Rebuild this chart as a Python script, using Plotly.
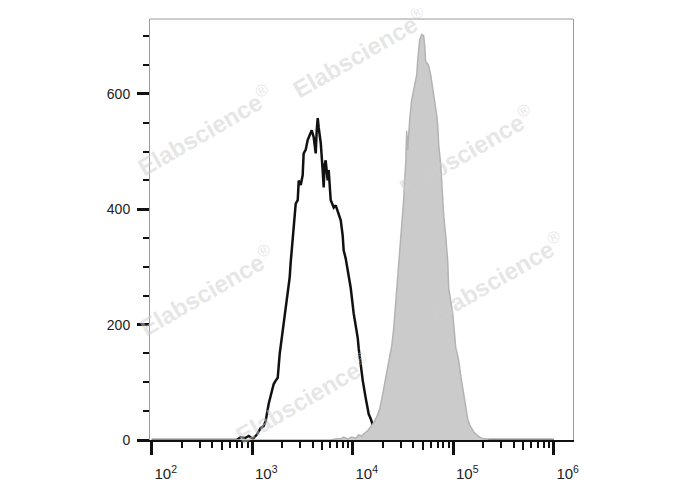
import plotly.graph_objects as go

# ---- data (log10 of fluorescence intensity, event counts) ----
black_log10 = [2.0, 2.846, 2.886, 2.925, 2.965, 3.005, 3.045, 3.065, 3.085, 3.114, 3.134, 3.164, 3.194,
               3.214, 3.234, 3.254, 3.274, 3.303, 3.313, 3.333, 3.353, 3.373, 3.383, 3.403, 3.423, 3.433,
               3.453, 3.463, 3.483, 3.502, 3.512, 3.532, 3.552, 3.572, 3.592, 3.612, 3.632, 3.642, 3.652,
               3.662, 3.682, 3.701, 3.711, 3.721, 3.731, 3.751, 3.761, 3.781, 3.811, 3.831, 3.851, 3.881,
               3.900, 3.910, 3.930, 3.950, 3.980, 4.010, 4.030, 4.050, 4.060, 4.070, 4.080, 4.100, 4.129,
               4.159, 4.179, 4.209, 4.239, 4.259, 4.289, 4.308, 4.338, 4.368, 6.0]
black_count = [0, 0, 5, 3, 7, 2, 9, 16, 21, 24, 33, 63, 82,
               97, 103, 108, 150, 190, 207, 233, 259, 282, 308, 351, 390, 410,
               416, 450, 442, 459, 497, 503, 520, 529, 537, 525, 497, 537, 558,
               541, 515, 468, 438, 477, 485, 450, 468, 416, 403, 407, 398, 381,
               355, 329, 315, 294, 264, 219, 198, 177, 158, 143, 129, 103, 73,
               45, 37, 21, 14, 10, 3, 0, 5, 0, 0]

gray_log10 = [2.0, 3.781, 3.841, 3.881, 3.910, 3.950, 3.990, 4.030, 4.060, 4.090, 4.119, 4.149, 4.179,
              4.209, 4.239, 4.269, 4.289, 4.308, 4.328, 4.348, 4.368, 4.388, 4.408, 4.428, 4.448, 4.458,
              4.478, 4.488, 4.498, 4.507, 4.517, 4.527, 4.537, 4.547, 4.567, 4.587, 4.607, 4.627, 4.637,
              4.647, 4.657, 4.667, 4.687, 4.706, 4.716, 4.726, 4.746, 4.756, 4.776, 4.796, 4.816, 4.836,
              4.846, 4.856, 4.876, 4.886, 4.905, 4.925, 4.945, 4.955, 4.975, 4.995, 5.015, 5.025, 5.045,
              5.055, 5.075, 5.095, 5.114, 5.124, 5.144, 5.164, 5.184, 5.204, 5.234, 5.264, 5.303, 5.353, 6.0]
gray_count = [0, 0, 2, 2, 5, 2, 5, 3, 9, 7, 12, 16, 23,
              30, 40, 54, 71, 90, 108, 129, 143, 163, 193, 237, 273, 294,
              341, 360, 381, 416, 450, 477, 536, 503, 555, 590, 607, 624, 633,
              659, 680, 694, 703, 701, 685, 656, 652, 649, 633, 610, 590, 563,
              546, 511, 477, 442, 390, 355, 311, 264, 242, 219, 181, 160, 146,
              137, 111, 90, 68, 56, 37, 26, 19, 14, 9, 5, 2, 0, 0]

decade_vals = [1e2, 1e3, 1e4, 1e5, 1e6]
decade_text = ["10<sup>2</sup>", "10<sup>3</sup>", "10<sup>4</sup>", "10<sup>5</sup>", "10<sup>6</sup>"]
five_vals = [5e2, 5e3, 5e4, 5e5]
minor_mults = [2, 3, 4, 6, 7, 8, 9]
y_major = [0, 200, 400, 600]
watermark_text = "<b>Elabscience</b><sup>®</sup>"

minor_vals = [m * d for d in [1e2, 1e3, 1e4, 1e5] for m in minor_mults]

x_range = [1.983, 6.192]
y_range = [0, 730]

fig = go.Figure()

fig.add_trace(go.Scatter(
    x=[10 ** v for v in gray_log10], y=gray_count, xaxis="x2", yaxis="y",
    mode="lines", fill="tozeroy", fillcolor="#cbcbcb",
    line=dict(color="#b3b3b3", width=1.5), showlegend=False, hoverinfo="skip"))

fig.add_trace(go.Scatter(
    x=[10 ** v for v in black_log10], y=black_count, xaxis="x", yaxis="y",
    mode="lines", line=dict(color="#111111", width=2.5), showlegend=False, hoverinfo="skip"))

# watermark centres (paper fractions of the plot area)
wm_pos = [(0.13, 0.736), (0.497, 0.922), (0.75, 0.688), (0.135, 0.356), (0.82, 0.386), (0.362, 0.1)]
annotations = []
for (ax, ay) in wm_pos:
    annotations.append(dict(
        x=ax, y=ay, xref="paper", yref="paper", showarrow=False,
        xanchor="center", yanchor="middle",
        text=watermark_text, textangle=-30,
        font=dict(family="Arial, Liberation Sans, sans-serif", size=24, color="rgba(205,205,205,0.5)")))

xtickfont = dict(family="Arial, Liberation Sans, sans-serif", size=15, color="#222222")
ytickfont = dict(family="Arial, Liberation Sans, sans-serif", size=14, color="#222222")

fig.update_layout(
    width=688, height=490,
    margin=dict(l=142, r=123, t=11, b=58),
    paper_bgcolor="white", plot_bgcolor="white",
    xaxis=dict(type="log", range=x_range, showgrid=False, zeroline=False,
               showline=True, linecolor="#111111", linewidth=2,
               tickmode="array", tickvals=decade_vals, ticktext=decade_text,
               ticks="outside", ticklen=13, tickwidth=3, tickcolor="#111111",
               ticklabelshift=14, ticklabelstandoff=6, tickfont=xtickfont,
               minor=dict(tickmode="array", tickvals=minor_vals, ticks="outside",
                          ticklen=6, tickwidth=2, tickcolor="#111111", showgrid=False)),
    xaxis2=dict(type="log", range=x_range, overlaying="x", anchor="y", side="bottom",
                showgrid=False, zeroline=False, showline=False, showticklabels=False,
                tickmode="array", tickvals=five_vals, ticks="outside", ticklen=9,
                tickwidth=2, tickcolor="#111111"),
    yaxis=dict(range=y_range, showgrid=False, zeroline=False,
               showline=True, linecolor="#9a9a9a", linewidth=1, mirror=True,
               tickmode="array", tickvals=y_major,
               ticks="outside", ticklen=12, tickwidth=3, tickcolor="#111111",
               ticklabelstandoff=4,
               tickfont=ytickfont,
               minor=dict(dtick=50, ticks="outside", ticklen=6, tickwidth=2, tickcolor="#111111",
                          showgrid=False)),
    shapes=[dict(type="line", xref="paper", yref="paper", x0=0, x1=1, y0=1, y1=1,
                 line=dict(color="#9a9a9a", width=1))],
    annotations=annotations,
)

fig.write_html("out.html")
